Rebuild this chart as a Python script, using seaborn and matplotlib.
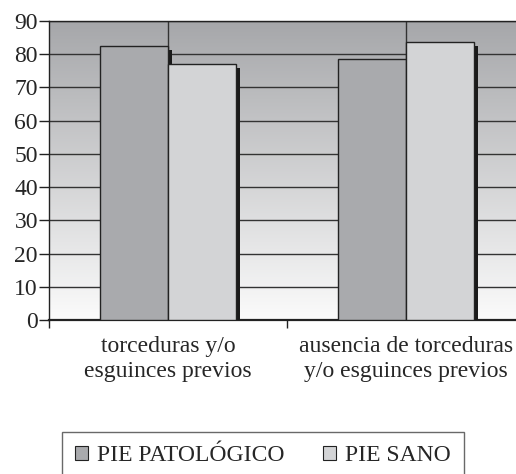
import numpy as np
import pandas as pd
import matplotlib
matplotlib.use("Agg")
import matplotlib.pyplot as plt
import matplotlib.patheffects as pe
from matplotlib.patches import Patch
import seaborn as sns

# data
categories = ["torceduras y/o\nesguinces previos",
              "ausencia de torceduras\ny/o esguinces previos"]
groups = ["PIE PATOLÓGICO", "PIE SANO"]
pie_patologico = [82.5, 78.6]
pie_sano = [77.0, 83.7]
colors = ["#a9aaad", "#d3d4d6"]

df = pd.DataFrame({
    "cat": categories * 2,
    "grupo": [groups[0]] * 2 + [groups[1]] * 2,
    "valor": pie_patologico + pie_sano,
})

sns.set_style("white")
plt.rcParams["font.family"] = ["Liberation Serif", "DejaVu Serif"]

fig = plt.figure(figsize=(5.16, 4.74), dpi=100)
ax = fig.add_axes([49 / 516, 1 - 320 / 474, 476 / 516, 299 / 474])

# grey-to-white background gradient
grad = np.linspace(0, 1, 256).reshape(-1, 1)
ax.imshow(grad, extent=[0, 1, 0, 1], transform=ax.transAxes, aspect="auto",
          cmap=matplotlib.colors.LinearSegmentedColormap.from_list(
              "bg", ["#fbfbfb", "#a6a7aa"]), zorder=0, origin="lower")

sns.barplot(data=df, x="cat", y="valor", hue="grupo", hue_order=groups,
            palette=colors, width=0.57, edgecolor="#222222", linewidth=1,
            saturation=1, legend=False, ax=ax, zorder=3)

shadow = [pe.SimplePatchShadow(offset=(3, -3), shadow_rgbFace="#1a1a1a", alpha=1),
          pe.Normal()]
for p in ax.patches:
    p.set_path_effects(shadow)

ax.set_xlim(-0.5, 1.5)
ax.set_ylim(0, 90)
ax.set_yticks(range(0, 91, 10))
ax.set_xlabel("")
ax.set_ylabel("")

ax.set_axisbelow(True)
ax.grid(True, color="#333333", linewidth=1, zorder=1)
ax.tick_params(axis="y", direction="out", length=7, width=1, color="#222222",
               labelsize=17, pad=1, left=True)
ax.tick_params(axis="x", which="major", length=0, labelsize=17, pad=11.5)
ax.set_xticks([-0.5, 0.5], minor=True)
ax.tick_params(axis="x", which="minor", length=6, width=1, color="#222222",
               direction="out", bottom=True)
for lab in ax.get_xticklabels():
    lab.set_linespacing(1.25)

for s in ax.spines.values():
    s.set_color("#222222")
    s.set_linewidth(1)
ax.spines["bottom"].set_linewidth(1.6)

handles = [Patch(facecolor=c, edgecolor="#222222", linewidth=0.8) for c in colors]
fig.legend(handles, groups, loc="upper center", ncol=2,
           bbox_to_anchor=(263 / 516, 1 - 432 / 474), frameon=True,
           fancybox=False, edgecolor="#444444", fontsize=17,
           handlelength=0.55, handleheight=0.55, handletextpad=0.4,
           columnspacing=1.6, borderpad=0.55, borderaxespad=0)

fig.savefig("out.png", dpi=100)
